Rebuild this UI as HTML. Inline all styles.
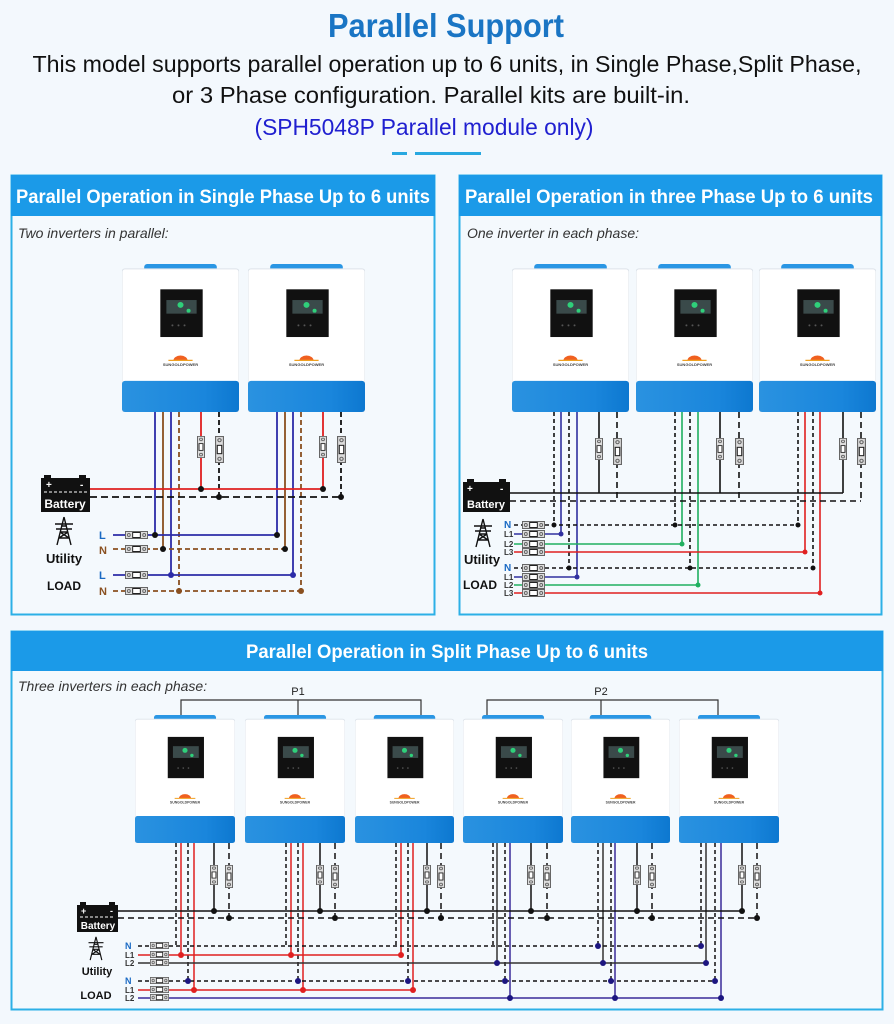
<!DOCTYPE html>
<html><head><meta charset="utf-8">
<style>
html,body{margin:0;padding:0;background:#f3f8fd;}
svg{display:block;font-family:"Liberation Sans",sans-serif;}
</style></head>
<body>
<svg width="894" height="1024" viewBox="0 0 894 1024" xmlns="http://www.w3.org/2000/svg">
<defs>
<linearGradient id="bl" x1="0" x2="1" y1="0" y2="0"><stop offset="0" stop-color="#2a92e0"/><stop offset="0.7" stop-color="#1a86dc"/><stop offset="1" stop-color="#0d78d0"/></linearGradient>
<symbol id="inv" viewBox="0 0 116 152" preserveAspectRatio="none">
<rect x="22" y="0" width="72" height="8" rx="3" fill="#2a96e4"/>
<rect x="0" y="5" width="116" height="147" rx="3" fill="#ffffff" stroke="#dde3ea" stroke-width="1"/>
<rect x="38" y="26" width="42" height="49" fill="#111"/>
<rect x="44" y="37" width="30" height="14" fill="#3a4a4a"/>
<circle cx="58" cy="42" r="3" fill="#2fd07a"/>
<circle cx="66" cy="48" r="2" fill="#2fd07a"/>
<circle cx="50" cy="63" r="1" fill="#555"/><circle cx="56" cy="63" r="1" fill="#555"/><circle cx="62" cy="63" r="1" fill="#555"/>
<path d="M51 99 a7 5 0 0 1 14 0z" fill="#f06020"/>
<path d="M46 99 h24" stroke="#f0a020" stroke-width="1.2"/>
<text x="58" y="105" text-anchor="middle" font-size="4" font-weight="bold" fill="#444">SUNGOLDPOWER</text>
<rect x="0" y="120" width="116" height="32" rx="3" fill="url(#bl)"/>
</symbol>
<symbol id="brv" viewBox="0 0 8 26" preserveAspectRatio="none">
<rect x="0.5" y="0.5" width="7" height="25" fill="#ddd" stroke="#666"/>
<rect x="2" y="9" width="4" height="8" fill="#fff" stroke="#222"/>
<circle cx="4" cy="4" r="1.5" fill="none" stroke="#666"/><circle cx="4" cy="22" r="1.5" fill="none" stroke="#666"/>
</symbol>
<symbol id="brh" viewBox="0 0 24 8" preserveAspectRatio="none">
<rect x="0.5" y="0.5" width="23" height="7" fill="#ddd" stroke="#666"/>
<rect x="8" y="1.5" width="8" height="5" fill="#fff" stroke="#222"/>
<circle cx="4" cy="4" r="1.5" fill="none" stroke="#666"/><circle cx="20" cy="4" r="1.5" fill="none" stroke="#666"/>
</symbol>
<symbol id="tower" viewBox="0 0 24 30">
<g fill="none" stroke="#111" stroke-width="1.4">
<path d="M12 1 L5 29 M12 1 L19 29 M8 16 L16 16 M7 22 L17 22 M9 10 L15 10 M8 16 L17 22 M16 16 L7 22 M3 8 h18 M4 13 h16"/>
</g>
</symbol>
</defs>

<text x="446" y="37" text-anchor="middle" font-size="33" font-weight="bold" fill="#1a75c4" textLength="236" lengthAdjust="spacingAndGlyphs">Parallel Support</text>
<text x="447" y="72" text-anchor="middle" font-size="23" fill="#111" textLength="829" lengthAdjust="spacingAndGlyphs">This model supports parallel operation up to 6 units, in Single Phase,Split Phase,</text>
<text x="431" y="103" text-anchor="middle" font-size="23" fill="#111" textLength="518" lengthAdjust="spacingAndGlyphs">or 3 Phase configuration.  Parallel kits are built-in.</text>
<text x="424" y="135" text-anchor="middle" font-size="23" fill="#2020d0" textLength="339" lengthAdjust="spacingAndGlyphs">(SPH5048P Parallel module only)</text>
<rect x="392" y="152" width="15" height="3" fill="#28a8e0"/>
<rect x="415" y="152" width="66" height="3" fill="#28a8e0"/>

<rect x="11.5" y="175.5" width="423" height="439" fill="#f4f9fd" stroke="#2cb0e6" stroke-width="2"/>
<rect x="11" y="175" width="424" height="41" fill="#1b9ae8"/>
<text x="223" y="203" text-anchor="middle" font-size="19" font-weight="bold" fill="#fff" textLength="414" lengthAdjust="spacingAndGlyphs">Parallel Operation in Single Phase Up to 6 units</text>
<text x="18" y="238" font-size="14" font-style="italic" fill="#333">Two inverters in parallel:</text>

<rect x="459.5" y="175.5" width="422" height="439" fill="#f4f9fd" stroke="#2cb0e6" stroke-width="2"/>
<rect x="459" y="175" width="423" height="41" fill="#1b9ae8"/>
<text x="669" y="203" text-anchor="middle" font-size="19" font-weight="bold" fill="#fff" textLength="408" lengthAdjust="spacingAndGlyphs">Parallel Operation in three Phase Up to 6 units</text>
<text x="467" y="238" font-size="14" font-style="italic" fill="#333">One inverter in each phase:</text>

<rect x="11.5" y="631.5" width="871" height="378" fill="#f4f9fd" stroke="#2cb0e6" stroke-width="2"/>
<rect x="11" y="631" width="872" height="40" fill="#1b9ae8"/>
<text x="447" y="658" text-anchor="middle" font-size="19" font-weight="bold" fill="#fff" textLength="402" lengthAdjust="spacingAndGlyphs">Parallel Operation in Split Phase Up to 6 units</text>
<text x="18" y="691" font-size="14" font-style="italic" fill="#333">Three inverters in each phase:</text>

<use href="#inv" x="122" y="264" width="117" height="148"/>
<use href="#inv" x="248" y="264" width="117" height="148"/>
<g fill="none" stroke-width="1.8">
<path d="M155 412 V535 M171 412 V575 M277 412 V535 M293 412 V575" stroke="#2c2ca8"/>
<path d="M163 412 V549 M285 412 V549" stroke="#8a5020"/>
<path d="M179 412 V591 M301 412 V591" stroke="#8a5020" stroke-dasharray="5 3"/>
<path d="M201 412 V489 M323 412 V489" stroke="#e02020"/>
<path d="M219 412 V497 M341 412 V497" stroke="#111" stroke-dasharray="5 3"/>
<path d="M90 489 H323" stroke="#e02020"/>
<path d="M90 497 H341" stroke="#111" stroke-dasharray="7 4"/>
<path d="M113 535 H277 M113 575 H293" stroke="#2c2ca8"/>
<path d="M113 549 H285 M113 591 H301" stroke="#8a5020" stroke-dasharray="5 3"/>
</g>
<use href="#brv" x="197" y="436" width="8" height="22"/>
<use href="#brv" x="215" y="436" width="9" height="27"/>
<use href="#brv" x="319" y="436" width="8" height="22"/>
<use href="#brv" x="337" y="436" width="9" height="27"/>
<use href="#brh" x="125" y="531" width="23" height="8"/>
<use href="#brh" x="125" y="545" width="23" height="8"/>
<use href="#brh" x="125" y="571" width="23" height="8"/>
<use href="#brh" x="125" y="587" width="23" height="8"/>
<g fill="#111"><circle cx="201" cy="489" r="3"/><circle cx="323" cy="489" r="3"/><circle cx="219" cy="497" r="3"/><circle cx="341" cy="497" r="3"/><circle cx="155" cy="535" r="3"/><circle cx="277" cy="535" r="3"/><circle cx="163" cy="549" r="3"/><circle cx="285" cy="549" r="3"/></g>
<g fill="#2c2ca8"><circle cx="171" cy="575" r="3"/><circle cx="293" cy="575" r="3"/></g>
<g fill="#8a5020"><circle cx="179" cy="591" r="3"/><circle cx="301" cy="591" r="3"/></g>
<rect x="41" y="478" width="49" height="34" fill="#111"/>
<rect x="44" y="475" width="7" height="4" fill="#111"/><rect x="79" y="475" width="7" height="4" fill="#111"/>
<text x="46" y="488" font-size="10" fill="#fff" font-weight="bold">+</text><text x="80" y="488" font-size="10" fill="#fff" font-weight="bold">-</text>
<path d="M44 492 H87" stroke="#fff" stroke-dasharray="3 2"/>
<text x="65" y="508" text-anchor="middle" font-size="12" font-weight="bold" fill="#fff">Battery</text>
<use href="#tower" x="52" y="516" width="24" height="30"/>
<text x="64" y="563" text-anchor="middle" font-size="13" font-weight="bold" fill="#111">Utility</text>
<text x="64" y="590" text-anchor="middle" font-size="12" font-weight="bold" fill="#111">LOAD</text>
<g font-size="11" font-weight="bold"><text x="99" y="539" fill="#1a6ac4">L</text><text x="99" y="554" fill="#8a5020">N</text><text x="99" y="579" fill="#1a6ac4">L</text><text x="99" y="595" fill="#8a5020">N</text></g>

<use href="#inv" x="512" y="264" width="117" height="148"/>
<use href="#inv" x="636" y="264" width="117" height="148"/>
<use href="#inv" x="759" y="264" width="117" height="148"/>
<g fill="none" stroke-width="1.6">
<path d="M554 412 V525 M569 412 V568 M675 412 V525 M690 412 V568 M798 412 V525 M813 412 V568" stroke="#111" stroke-dasharray="4 3"/>
<path d="M561 412 V534 M577 412 V577" stroke="#3030a0"/>
<path d="M682 412 V544 M698 412 V585" stroke="#20b060"/>
<path d="M805 412 V552 M820 412 V593" stroke="#e02020"/>
<path d="M599 412 V493 M720 412 V493 M843 412 V493 M510 493 H843" stroke="#111"/>
<path d="M617 412 V501 M739 412 V501 M861 412 V501 M510 501 H861" stroke="#111" stroke-dasharray="6 4"/>
<path d="M545 525 H798 M545 568 H813 M514 525 H522 M514 568 H522" stroke="#111" stroke-dasharray="4 3"/>
<path d="M514 534 H561 M514 577 H577" stroke="#3030a0"/>
<path d="M514 544 H682 M514 585 H698" stroke="#20b060"/>
<path d="M514 552 H805 M514 593 H820" stroke="#e02020"/>
</g>
<use href="#brv" x="595" y="438" width="8" height="22"/>
<use href="#brv" x="613" y="438" width="9" height="27"/>
<use href="#brv" x="716" y="438" width="8" height="22"/>
<use href="#brv" x="735" y="438" width="9" height="27"/>
<use href="#brv" x="839" y="438" width="8" height="22"/>
<use href="#brv" x="857" y="438" width="9" height="27"/>
<g>
<use href="#brh" x="522" y="521" width="23" height="8"/><use href="#brh" x="522" y="530" width="23" height="8"/><use href="#brh" x="522" y="540" width="23" height="8"/><use href="#brh" x="522" y="548" width="23" height="8"/>
<use href="#brh" x="522" y="564" width="23" height="8"/><use href="#brh" x="522" y="573" width="23" height="8"/><use href="#brh" x="522" y="581" width="23" height="8"/><use href="#brh" x="522" y="589" width="23" height="8"/>
</g>
<g fill="#111"><circle cx="554" cy="525" r="2.5"/><circle cx="675" cy="525" r="2.5"/><circle cx="798" cy="525" r="2.5"/><circle cx="569" cy="568" r="2.5"/><circle cx="690" cy="568" r="2.5"/><circle cx="813" cy="568" r="2.5"/></g>
<circle cx="561" cy="534" r="2.5" fill="#3030a0"/><circle cx="577" cy="577" r="2.5" fill="#3030a0"/>
<circle cx="682" cy="544" r="2.5" fill="#20b060"/><circle cx="698" cy="585" r="2.5" fill="#20b060"/>
<circle cx="805" cy="552" r="2.5" fill="#e02020"/><circle cx="820" cy="593" r="2.5" fill="#e02020"/>
<rect x="463" y="482" width="47" height="30" fill="#111"/>
<rect x="467" y="479" width="7" height="4" fill="#111"/><rect x="499" y="479" width="7" height="4" fill="#111"/>
<text x="467" y="492" font-size="10" fill="#fff" font-weight="bold">+</text><text x="500" y="492" font-size="10" fill="#fff" font-weight="bold">-</text>
<text x="486" y="508" text-anchor="middle" font-size="11" font-weight="bold" fill="#fff">Battery</text>
<use href="#tower" x="471" y="518" width="24" height="30"/>
<text x="482" y="564" text-anchor="middle" font-size="13" font-weight="bold" fill="#111">Utility</text>
<text x="480" y="589" text-anchor="middle" font-size="12" font-weight="bold" fill="#111">LOAD</text>
<g font-size="8" font-weight="bold" fill="#333"><text x="504" y="528" fill="#1a6ac4" font-size="10">N</text><text x="504" y="537">L1</text><text x="504" y="547">L2</text><text x="504" y="555">L3</text><text x="504" y="571" fill="#1a6ac4" font-size="10">N</text><text x="504" y="580">L1</text><text x="504" y="588">L2</text><text x="504" y="596">L3</text></g>

<path d="M181 715 V700 H421 V715 M298 700 V715 M487 715 V700 H718 V715 M601 700 V715" fill="none" stroke="#333" stroke-width="1.2"/>
<text x="298" y="695" text-anchor="middle" font-size="11" fill="#222">P1</text>
<text x="601" y="695" text-anchor="middle" font-size="11" fill="#222">P2</text>
<use href="#inv" x="135" y="715" width="100" height="128"/>
<use href="#inv" x="245" y="715" width="100" height="128"/>
<use href="#inv" x="355" y="715" width="99" height="128"/>
<use href="#inv" x="463" y="715" width="100" height="128"/>
<use href="#inv" x="571" y="715" width="99" height="128"/>
<use href="#inv" x="679" y="715" width="100" height="128"/>
<g fill="none" stroke-width="1.5">
<path d="M176 843 V946 M188 843 V981 M286 843 V946 M298 843 V981 M396 843 V946 M408 843 V981" stroke="#111" stroke-dasharray="4 3"/>
<path d="M181 843 V955 M194 843 V990 M291 843 V955 M303 843 V990 M401 843 V955 M413 843 V990" stroke="#e02020"/>
<path d="M493 843 V946 M505 843 V981 M598 843 V946 M611 843 V981 M701 843 V946 M715 843 V981" stroke="#111" stroke-dasharray="4 3"/>
<path d="M497 843 V963 M603 843 V963 M706 843 V963" stroke="#333"/>
<path d="M510 843 V998 M615 843 V998 M721 843 V998" stroke="#3a2a9a"/>
<path d="M214 843 V911 M320 843 V911 M427 843 V911 M531 843 V911 M637 843 V911 M742 843 V911 M118 911 H742" stroke="#111"/>
<path d="M229 843 V918 M335 843 V918 M441 843 V918 M547 843 V918 M652 843 V918 M757 843 V918 M118 918 H757" stroke="#111" stroke-dasharray="6 4"/>
<path d="M138 946 H150 M169 946 H701 M138 981 H150 M169 981 H715" stroke="#111" stroke-dasharray="4 3"/>
<path d="M138 955 H401 M138 990 H413" stroke="#e02020"/>
<path d="M138 963 H706" stroke="#333"/>
<path d="M138 998 H721" stroke="#3a2a9a"/>
</g>
<g>
<use href="#brv" x="210" y="865" width="8" height="20"/><use href="#brv" x="225" y="865" width="8" height="23"/>
<use href="#brv" x="316" y="865" width="8" height="20"/><use href="#brv" x="331" y="865" width="8" height="23"/>
<use href="#brv" x="423" y="865" width="8" height="20"/><use href="#brv" x="437" y="865" width="8" height="23"/>
<use href="#brv" x="527" y="865" width="8" height="20"/><use href="#brv" x="543" y="865" width="8" height="23"/>
<use href="#brv" x="633" y="865" width="8" height="20"/><use href="#brv" x="648" y="865" width="8" height="23"/>
<use href="#brv" x="738" y="865" width="8" height="20"/><use href="#brv" x="753" y="865" width="8" height="23"/>
</g>
<g>
<use href="#brh" x="150" y="942" width="19" height="7"/><use href="#brh" x="150" y="951" width="19" height="7"/><use href="#brh" x="150" y="959" width="19" height="7"/>
<use href="#brh" x="150" y="977" width="19" height="7"/><use href="#brh" x="150" y="986" width="19" height="7"/><use href="#brh" x="150" y="994" width="19" height="7"/>
</g>
<g fill="#111"><circle cx="214" cy="911" r="3"/><circle cx="320" cy="911" r="3"/><circle cx="427" cy="911" r="3"/><circle cx="531" cy="911" r="3"/><circle cx="637" cy="911" r="3"/><circle cx="742" cy="911" r="3"/>
<circle cx="229" cy="918" r="3"/><circle cx="335" cy="918" r="3"/><circle cx="441" cy="918" r="3"/><circle cx="547" cy="918" r="3"/><circle cx="652" cy="918" r="3"/><circle cx="757" cy="918" r="3"/></g>
<g fill="#e02020"><circle cx="181" cy="955" r="3"/><circle cx="291" cy="955" r="3"/><circle cx="401" cy="955" r="3"/><circle cx="194" cy="990" r="3"/><circle cx="303" cy="990" r="3"/><circle cx="413" cy="990" r="3"/></g>
<g fill="#1c1680"><circle cx="188" cy="981" r="3"/><circle cx="298" cy="981" r="3"/><circle cx="408" cy="981" r="3"/>
<circle cx="598" cy="946" r="3"/><circle cx="701" cy="946" r="3"/>
<circle cx="497" cy="963" r="3"/><circle cx="603" cy="963" r="3"/><circle cx="706" cy="963" r="3"/>
<circle cx="505" cy="981" r="3"/><circle cx="611" cy="981" r="3"/><circle cx="715" cy="981" r="3"/>
<circle cx="510" cy="998" r="3"/><circle cx="615" cy="998" r="3"/><circle cx="721" cy="998" r="3"/></g>
<rect x="77" y="905" width="41" height="27" fill="#111"/>
<rect x="80" y="902" width="6" height="4" fill="#111"/><rect x="109" y="902" width="6" height="4" fill="#111"/>
<text x="81" y="914" font-size="9" fill="#fff" font-weight="bold">+</text><text x="110" y="914" font-size="9" fill="#fff" font-weight="bold">-</text>
<path d="M80 917 H115" stroke="#fff" stroke-dasharray="3 2"/>
<text x="98" y="929" text-anchor="middle" font-size="10" font-weight="bold" fill="#fff">Battery</text>
<use href="#tower" x="86" y="935" width="20" height="27"/>
<text x="97" y="975" text-anchor="middle" font-size="11" font-weight="bold" fill="#111">Utility</text>
<text x="96" y="999" text-anchor="middle" font-size="11" font-weight="bold" fill="#111">LOAD</text>
<g font-size="8" font-weight="bold" fill="#333"><text x="125" y="949" fill="#1a6ac4" font-size="9">N</text><text x="125" y="958">L1</text><text x="125" y="966">L2</text><text x="125" y="984" fill="#1a6ac4" font-size="9">N</text><text x="125" y="993">L1</text><text x="125" y="1001">L2</text></g>
</svg>
</body></html>
